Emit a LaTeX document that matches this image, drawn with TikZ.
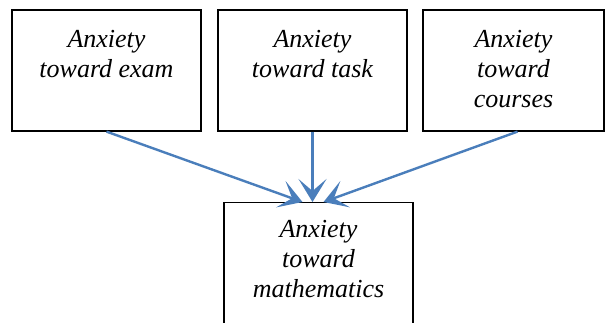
\documentclass[tikz,border=0pt]{standalone}
\usepackage{fontspec}
\setmainfont{Liberation Serif}
\usetikzlibrary{arrows.meta}
\definecolor{linkblue}{HTML}{4A7EBB}
\newcommand{\boxtext}[4]{\parbox[c][#1][t]{#2}{\centering\rule{0pt}{#3}#4}}

\begin{document}
\begin{tikzpicture}[
    x=1pt, y=1pt,
    box/.style={draw, line width=1.2pt, inner sep=0pt, font=\itshape\fontsize{26}{30}\selectfont},
    link/.style={-{Stealth[length=23pt, width=28pt, inset=12pt]}, draw=linkblue, line width=2.4pt}
]
\useasboundingbox (0,0) rectangle (605,-322);
\clip (0,0) rectangle (605,-322);

\node[box] (exam) at (106.5,-70.5) {\boxtext{121pt}{189pt}{37pt}{Anxiety\\toward exam}};
\node[box] (task) at (312.5,-70.5) {\boxtext{121pt}{189pt}{37pt}{Anxiety\\toward task}};
\node[box] (courses) at (513.5,-70.5) {\boxtext{121pt}{181pt}{37pt}{Anxiety\\toward\\courses}};
\node[box, anchor=north] (math) at (318.5,-202) {\boxtext{124pt}{189pt}{35pt}{Anxiety\\toward\\mathematics}};

\draw[link] (exam.south) -- ([xshift=-16pt]math.north);
\draw[link] (task.south) -- (task.south |- math.north);
\draw[link] ([xshift=4pt]courses.south) -- ([xshift=5pt]math.north);
\end{tikzpicture}
\end{document}
